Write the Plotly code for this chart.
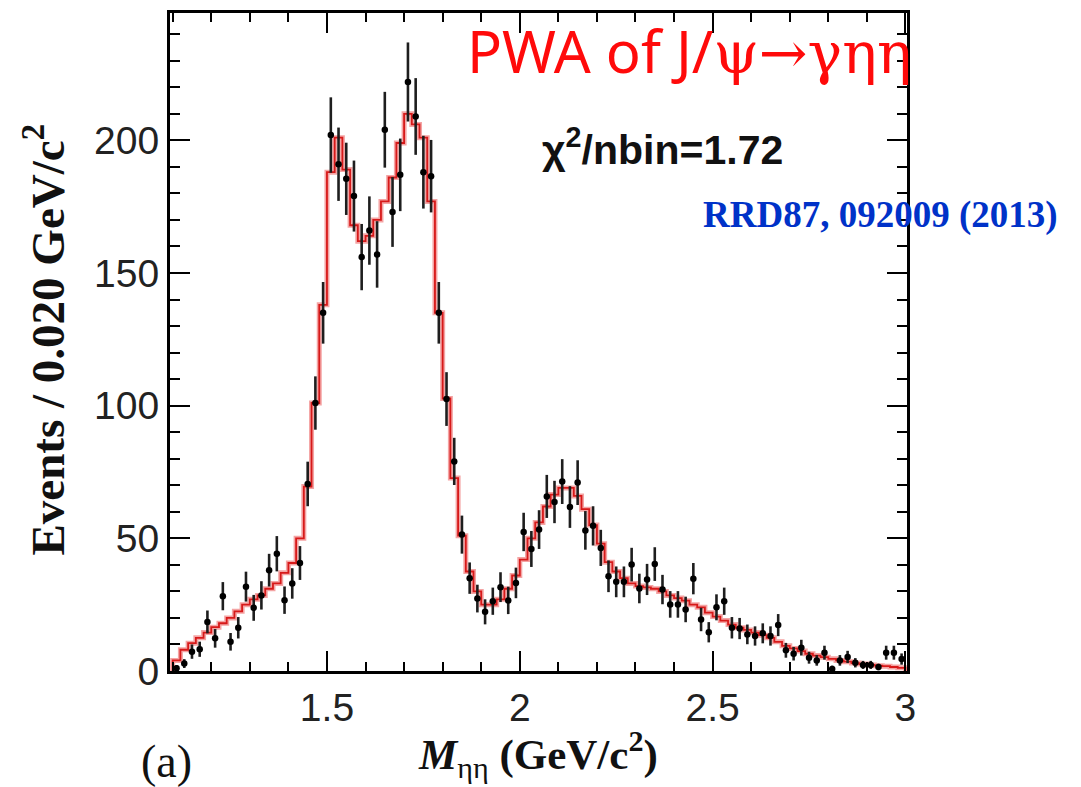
import numpy as np
import plotly.graph_objects as go

# ---------------- data ----------------
bin_width = 0.02
x_lo, x_hi = 1.10, 3.00
n_bins = 95
bin_centers = np.round(x_lo + bin_width / 2 + bin_width * np.arange(n_bins), 3)
bin_edges = np.round(x_lo + bin_width * np.arange(n_bins + 1), 3)

data_counts = [
    1, 2.8, 7.3, 8.2, 18.5, 12.3, 28.2, 11, 16.3, 31.8,          # 1.11-1.29
    23.8, 28.5, 38, 44.2, 26.7, 33, 40.7, 70.5, 101, 135,         # 1.31-1.49
    202, 191, 185.5, 179, 156, 166, 157, 204, 173, 187,           # 1.51-1.69
    222, 209, 188, 186.5, 135, 102.5, 79, 51.4, 35, 27.3,         # 1.71-1.89
    22.3, 26.3, 31.6, 26.6, 33.2, 52.4, 46, 53.3, 65.8, 63.7,     # 1.91-2.09
    71.4, 61.8, 71, 53, 54.7, 46.4, 35.7, 33.6, 33.6, 40.1,       # 2.11-2.29
    31.1, 34.5, 40.3, 30.7, 25.1, 25.1, 23.2, 34.8, 19.4, 14.6,   # 2.31-2.49
    24, 26.3, 16.3, 16, 13.8, 13.2, 14.2, 13.2, 17.3, 7.8,        # 2.51-2.69
    6.5, 8.8, 5, 4.0, 6.9, 0.8, 4.0, 5.3, 3.1, 2.3,               # 2.71-2.89
    2.3, 1.5, 6.9, 6.9, 4.5,                                      # 2.91-2.99
]

fit_counts = [
    4, 8, 10.5, 12.5, 14.5, 16.5, 18, 20, 22.5, 25,               # 1.11-1.29
    27, 28.5, 31, 33, 37, 40.7, 50, 69.5, 101, 138,               # 1.31-1.49
    188, 201, 189, 168, 162, 164, 170, 177, 186, 199,             # 1.51-1.69
    210, 206, 201, 177, 135, 102.7, 72.7, 51, 37.5, 30,           # 1.71-1.89
    25, 25, 27, 31, 36, 42, 50, 56, 62, 66.5,                     # 1.91-2.09
    69, 69, 66, 61, 55, 48, 41, 37.5, 35, 33,                     # 2.11-2.29
    32, 31.5, 31, 30, 28.5, 27.5, 26.5, 25, 24, 22,               # 2.31-2.49
    20.5, 19, 17.5, 16.3, 15.5, 14.5, 13.5, 12.5, 11, 9.5,        # 2.51-2.69
    8.5, 7.5, 6.5, 5.8, 5.2, 4.6, 4, 3.5, 3, 2.6,                 # 2.71-2.89
    2.3, 2.0, 1.8, 1.5, 1.2,                                      # 2.91-2.99
]

x_ticks = [1.5, 2, 2.5, 3]
x_tick_labels = ["1.5", "2", "2.5", "3"]
y_ticks = [0, 50, 100, 150, 200]
y_tick_labels = ["0", "50", "100", "150", "200"]

# ---------------- layout geometry (pixels) ----------------
W, H = 1081, 787
L, R, T, B = 170, 174, 10, 116
pw, ph = W - L - R, H - T - B


def px(xp):
    return (xp - L) / pw


def py(yp):
    return (H - B - yp) / ph


data_counts = np.array(data_counts, dtype=float)
fit_counts = np.array(fit_counts, dtype=float)
errors = np.sqrt(np.maximum(data_counts, 1.5))

fig = go.Figure()

# fit histogram (step line) - soft halo + core line
step_x = [bin_edges[0]] + list(bin_edges[:-1]) + [bin_edges[-1], bin_edges[-1]]
step_y = [0] + list(fit_counts) + [fit_counts[-1], 0]

fig.add_trace(go.Scatter(
    x=step_x, y=step_y, mode="lines", line_shape="hv",
    line=dict(color="rgba(235,90,90,0.55)", width=5),
    hoverinfo="skip", showlegend=False,
))
fig.add_trace(go.Scatter(
    x=step_x, y=step_y, mode="lines", line_shape="hv",
    line=dict(color="rgb(215,25,25)", width=1.8),
    hoverinfo="skip", showlegend=False,
))

# data points
fig.add_trace(go.Scatter(
    x=bin_centers, y=data_counts, mode="markers",
    marker=dict(color="black", size=6.5),
    error_y=dict(type="data", array=errors, visible=True,
                 color="rgb(30,30,30)", thickness=2.6, width=0),
    showlegend=False,
))

axis_common = dict(
    showline=True, linecolor="black", linewidth=3, mirror="allticks",
    ticks="inside", tickcolor="black", tickwidth=2,
    showgrid=False, zeroline=False,
    tickfont=dict(family="Liberation Sans, Arial", size=39, color="#222"),
)

fig.update_xaxes(
    range=[1.093, 3.004], tickvals=x_ticks, ticktext=x_tick_labels, ticklen=20,
    minor=dict(dtick=0.1, tick0=1.0, ticklen=9, tickwidth=2, ticks="inside", tickcolor="black"),
    **axis_common,
)
fig.update_yaxes(
    range=[0, 248], tickvals=y_ticks, ticktext=y_tick_labels, ticklen=20,
    minor=dict(dtick=10, tick0=0, ticklen=10, tickwidth=2, ticks="inside", tickcolor="black"),
    **axis_common,
)

annotations = []

# axis titles
annotations.append(dict(
    x=px(45), y=py(338), xref="paper", yref="paper",
    text="<b>Events / 0.020 GeV/c<sup>2</sup></b>", textangle=-90,
    showarrow=False, font=dict(family="Liberation Serif", size=47, color="#111"),
    xanchor="center", yanchor="middle",
))
annotations.append(dict(
    x=px(538), y=py(755), xref="paper", yref="paper",
    text="<b><i>M</i></b><sub>ηη</sub> <b>(GeV/c<sup>2</sup>)</b>",
    showarrow=False, font=dict(family="Liberation Serif", size=43, color="#111"),
    xanchor="center", yanchor="middle",
))
annotations.append(dict(
    x=px(166), y=py(762), xref="paper", yref="paper",
    text="(a)", showarrow=False,
    font=dict(family="Liberation Serif", size=46, color="#111"),
    xanchor="center", yanchor="middle",
))

# chi2 text
annotations.append(dict(
    x=px(540), y=py(145), xref="paper", yref="paper",
    text="<b>χ<sup>2</sup>/nbin=1.72</b>", showarrow=False,
    font=dict(family="Liberation Sans, Arial", size=41, color="#111"),
    xanchor="left", yanchor="middle",
))

# reference text
annotations.append(dict(
    x=px(701), y=py(213), xref="paper", yref="paper",
    text="<b>RRD87, 092009 (2013)</b>", showarrow=False,
    font=dict(family="Liberation Serif", size=37, color="rgb(0,50,200)"),
    xanchor="left", yanchor="middle",
))

# PWA title
pwa_text = ('PWA of J/<span style="font-family:DejaVu Serif">ψ→γηη</span>')
annotations.append(dict(
    x=px(465), y=py(48), xref="paper", yref="paper",
    text=pwa_text, showarrow=False,
    font=dict(family="Noto Sans", size=58, color="rgb(255,10,10)"),
    xanchor="left", yanchor="middle",
))

fig.update_layout(
    width=W, height=H,
    margin=dict(l=L, r=R, t=T, b=B),
    paper_bgcolor="white", plot_bgcolor="white",
    annotations=annotations,
    showlegend=False,
)

fig.write_html("out.html")
